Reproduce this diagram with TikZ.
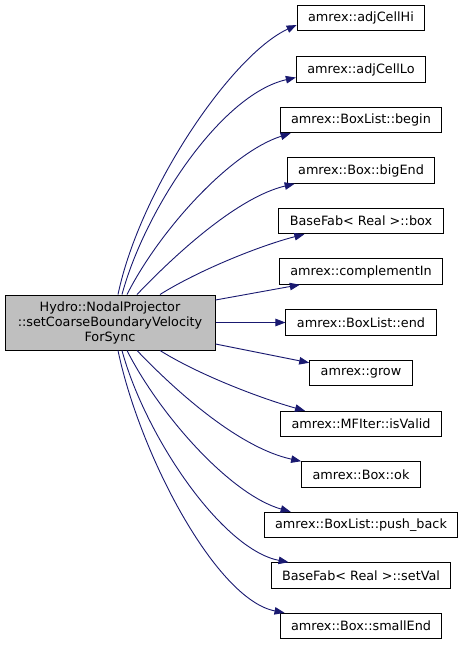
\documentclass[tikz,border=0pt]{standalone}
\usepackage{fontspec}
\setmainfont{DejaVu Sans}
\usetikzlibrary{arrows.meta}
\definecolor{navyedge}{RGB}{25,25,112}
\definecolor{srcgray}{RGB}{191,191,191}
\begin{document}
\begin{tikzpicture}[x=1pt, y=1pt, font=\fontsize{12.8}{15}\selectfont,
  fn/.style={draw=black, line width=1pt, fill=white, inner xsep=11pt, inner ysep=0pt, minimum height=25.5pt},
  call/.style={draw=navyedge, line width=0.9pt, -{Triangle[length=10pt,width=7.5pt,fill=navyedge]}}]
  \useasboundingbox (0,0) rectangle (465,-645);
  % caller
  \node[fn, fill=srcgray, minimum width=210pt, minimum height=55pt, align=center] (src) at (110,-322.5) {Hydro::NodalProjector\\::setCoarseBoundaryVelocity\\ForSync};
  % callees
  \node[fn] (hi) at (361,-18) {amrex::adjCellHi};
  \node[fn] (lo) at (361,-69.5) {amrex::adjCellLo};
  \node[fn] (blbegin) at (361,-120) {amrex::BoxList::begin};
  \node[fn] (bigend) at (361,-170.5) {amrex::Box::bigEnd};
  \node[fn] (fabbox) at (361,-221) {BaseFab< Real >::box};
  \node[fn] (compl) at (361,-271.5) {amrex::complementIn};
  \node[fn] (blend) at (361,-322.5) {amrex::BoxList::end};
  \node[fn] (grow) at (361,-373) {amrex::grow};
  \node[fn] (valid) at (361,-424) {amrex::MFIter::isValid};
  \node[fn] (boxok) at (361,-474.5) {amrex::Box::ok};
  \node[fn] (push) at (361,-525) {amrex::BoxList::push\_back};
  \node[fn] (setval) at (361,-575.5) {BaseFab< Real >::setVal};
  \node[fn] (small) at (361,-626) {amrex::Box::smallEnd};
  % calls
  \draw[call] ([xshift=8pt]src.north) .. controls +(22,105) and +(-65,-30) .. ([yshift=-7pt]hi.west);
  \draw[call] ([xshift=12pt]src.north) .. controls +(23,85) and +(-75,-17) .. ([yshift=-8pt]lo.west);
  \draw[call] ([xshift=17pt]src.north) .. controls +(33,65) and +(-60,-19) .. ([xshift=11pt]blbegin.south west);
  \draw[call] ([xshift=27pt]src.north) .. controls +(43,45) and +(-55,-13) .. ([xshift=8pt]bigend.south west);
  \draw[call] ([xshift=50pt]src.north) .. controls +(40,25) and +(-43,-11) .. ([xshift=26pt]fabbox.south west);
  \draw[call] ([yshift=22.5pt]src.east) -- ([xshift=21pt]compl.south west);
  \draw[call] (src.east) -- (blend.west);
  \draw[call] ([yshift=-21.5pt]src.east) -- ([yshift=-3pt]grow.north west);
  \draw[call] ([xshift=50pt]src.south) .. controls +(40,-25) and +(-43,12) .. ([xshift=25pt]valid.north west);
  \draw[call] ([xshift=27pt]src.south) .. controls +(43,-45) and +(-60,13) .. (boxok.north west);
  \draw[call] ([xshift=17pt]src.south) .. controls +(33,-65) and +(-60,17) .. ([xshift=27pt]push.north west);
  \draw[call] ([xshift=12pt]src.south) .. controls +(23,-85) and +(-67,13) .. ([xshift=18pt]setval.north west);
  \draw[call] ([xshift=8pt]src.south) .. controls +(22,-105) and +(-68,13) .. ([xshift=5pt]small.north west);
\end{tikzpicture}
\end{document}
